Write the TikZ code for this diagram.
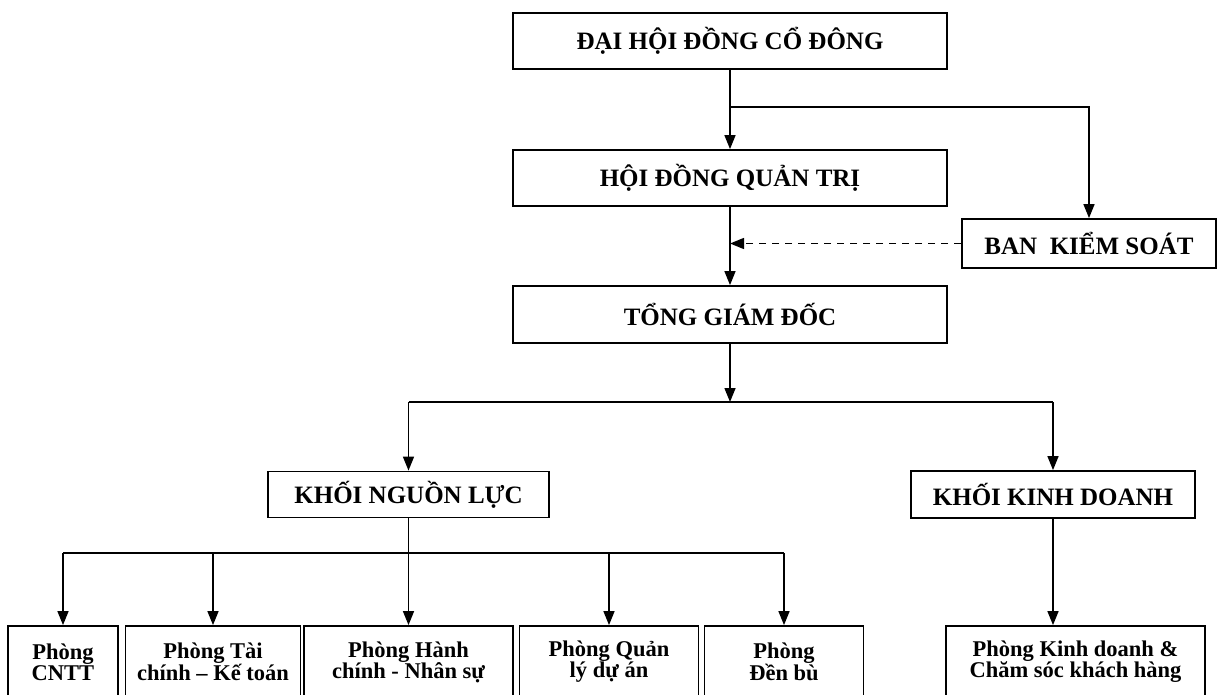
\documentclass[tikz,border=0pt]{standalone}
\usepackage{fontspec}
\setmainfont{Liberation Serif}
\usepackage{tikz}
\usetikzlibrary{arrows.meta}

\tikzset{
  box/.style={draw, line width=1.8pt, inner sep=0pt, align=center,
              font=\bfseries\fontsize{25}{26}\selectfont},
  topbox/.style={box, minimum width=434pt, minimum height=56pt},
  unitbox/.style={box, minimum height=72pt,
                  font=\bfseries\fontsize{22.5}{21}\selectfont},
  link/.style={line width=1.5pt},
  linkto/.style={link, -{Triangle[width=11pt,length=14pt]}},
}

\begin{document}
\begin{tikzpicture}[x=1pt, y=-1pt]
                \useasboundingbox (0,0) rectangle (1220,695);
                \fill[white] (0,0) rectangle (1220,695);
                % top levels
                \node[topbox] (dhcd) at (730,41) {ĐẠI HỘI ĐỒNG CỔ ĐÔNG};
                \node[topbox] (hdqt) at (730,178) {HỘI ĐỒNG QUẢN TRỊ};
                \node[box, minimum width=254pt, minimum height=49pt] (bks) at (1089,243.5) {BAN\ \ KIỂM SOÁT};
                \node[topbox, minimum height=57pt] (tgd) at (730,314.5) {TỔNG GIÁM ĐỐC};
                % khoi
                \node[box, minimum width=281pt, minimum height=46pt] (knl) at (408.5,494.5) {KHỐI NGUỒN LỰC};
                \node[box, minimum width=284pt, minimum height=47pt] (kkd) at (1053,494.5) {KHỐI KINH DOANH};
                % phong
                \node[unitbox, minimum width=110pt] (cntt) at (63,662) {Phòng\\CNTT};
                \node[unitbox, minimum width=175pt] (tckt) at (213,662) {Phòng Tài\\chính -- Kế toán};
                \node[unitbox, minimum width=209pt] (hcns) at (408.5,662) {Phòng Hành\\chính - Nhân sự};
                \node[unitbox, minimum width=179pt] (qlda) at (609,662) {Phòng Quản\\lý dự án};
                \node[unitbox, minimum width=159pt] (denbu) at (784,662) {Phòng\\Đền bù};
                \node[unitbox, minimum width=259pt] (kdcs) at (1075.5,662) {Phòng Kinh doanh \&\\Chăm sóc khách hàng};
                % bus points
                \coordinate (busA) at (730,107);
                \coordinate (busB) at (730,402);
                \coordinate (busC) at (408.5,553);
                \draw[linkto] (dhcd.south) -- (hdqt.north);
                \draw[linkto] (busA) -| (bks.north);
                \draw[linkto] (hdqt.south) -- (tgd.north);
                \coordinate (ctrl) at (hdqt.south |- bks.west);
                \draw[linkto, dash pattern=on 7pt off 6pt] (bks.west) -- (ctrl);
                \draw[linkto] (tgd.south) -- (busB);
                \draw[link] (knl.north |- busB) -- (kkd.north |- busB);
                \draw[linkto] (knl.north |- busB) -- (knl.north);
                \draw[linkto] (kkd.north |- busB) -- (kkd.north);
                \draw[link] (knl.south) -- (busC);
                \draw[link] (cntt.north |- busC) -- (denbu.north |- busC);
                \foreach \u in {cntt, tckt, hcns, qlda, denbu}
                  \draw[linkto] (\u.north |- busC) -- (\u.north);
                \draw[linkto] (kkd.south) -- (kkd.south |- kdcs.north);
            \end{tikzpicture}
\end{document}
